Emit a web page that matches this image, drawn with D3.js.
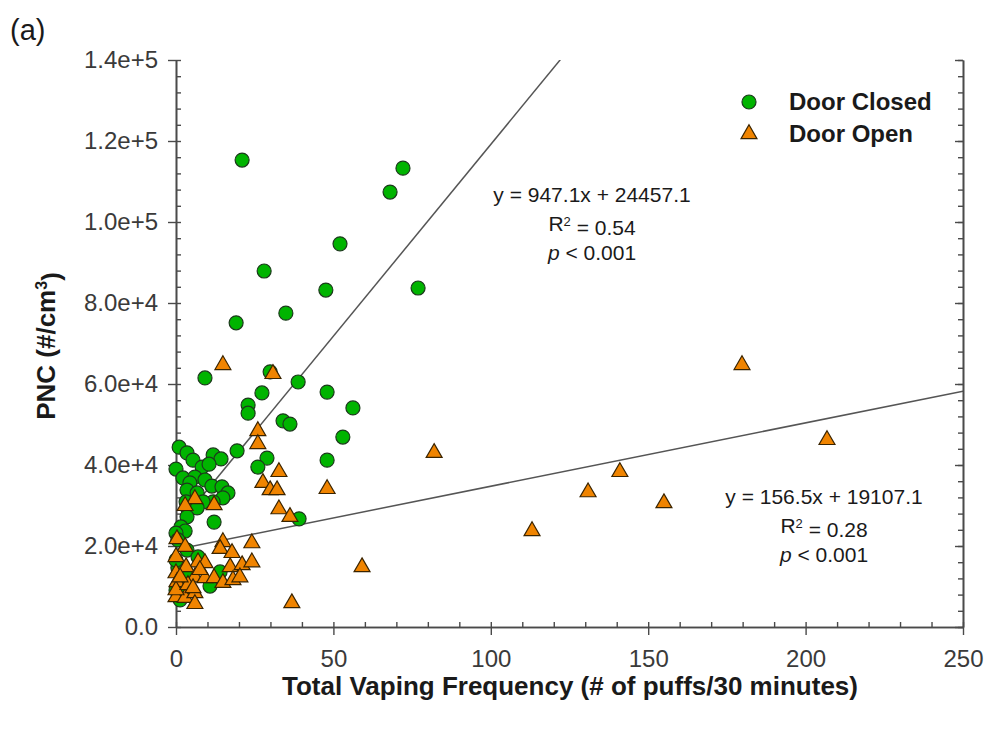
<!DOCTYPE html>
<html><head><meta charset="utf-8">
<script src="https://cdn.jsdelivr.net/npm/d3@7"></script>
<style>
body{margin:0;background:#fff;}
svg{display:block;font-family:"Liberation Sans",Arial,sans-serif;}
</style></head>
<body>
<script>
// ---- data ----
const closedX = [21.0,72.1,68.0,52.1,28.0,47.6,76.9,19.1,34.9,9.2,29.9,38.8,48.0,27.3,22.9,22.9,34.0,36.2,56.2,53.0,48.0,28.9,26.0,19.4,39.1,1.0,3.5,5.4,11.8,14.3,0.0,8.3,10.5,2.2,6.0,4.4,9.2,11.4,14.6,16.5,3.5,6.7,14.9,11.8,8.6,3.2,3.8,6.7,3.5,12.1,1.6,2.9,0.0,3.5,7.0,0.6,3.5,10.8,14.0,2.9,0.0,3.5,1.3,0.6,0.0];
const closedY = [115300,113300,107400,94600,87900,83200,83700,75100,77500,61500,63000,60500,58000,57800,54800,52800,50900,50100,54100,46900,41200,41700,39500,43500,26700,44400,43000,41200,42500,41500,39000,39500,40200,36800,37000,35600,36300,34800,34600,33100,33800,33100,31900,30900,30900,30900,29100,29400,27200,25900,24700,23700,23200,19000,17300,14600,12800,10100,13600,10400,9100,9600,6700,21500,16500];
const openX = [14.9,30.8,26.0,26.0,32.7,27.6,29.9,32.1,32.7,36.2,48.0,82.0,59.1,36.8,113.1,130.9,141.0,155.0,179.8,206.8,6.0,2.9,12.1,0.3,2.9,14.9,14.0,17.8,24.1,0.0,7.0,9.2,3.2,17.2,21.0,24.1,0.0,6.0,9.2,12.1,14.9,18.1,20.3,0.3,0.0,2.9,6.0,6.0,0.0,3.8,1.3,7.6,5.4];
const openY = [64700,62500,48400,45200,38300,35600,33800,33800,29100,27200,34100,43000,14800,5900,23700,33300,38300,30600,64700,46200,31600,29900,30100,21700,19800,21000,19300,18300,20700,17300,16000,15800,14800,14800,15300,16000,13300,12300,12100,12100,10900,11600,12300,11100,7400,7200,8400,5700,9100,10400,12300,14100,9600];
const fitClosed = {slope: 947.1, intercept: 24457.1, r2: "0.54"};
const fitOpen = {slope: 156.5, intercept: 19107.1, r2: "0.28"};
const xTicks = [0,50,100,150,200,250];
const yTicks = [0,20000,40000,60000,80000,100000,120000,140000];
const yTickLabels = ["0.0","2.0e+4","4.0e+4","6.0e+4","8.0e+4","1.0e+5","1.2e+5","1.4e+5"];
const seriesNames = ["Door Closed","Door Open"];

// ---- layout ----
const W = 986, H = 730;
const L = 176, R = 963, T = 60, B = 627;
const svg = d3.select("body").append("svg").attr("width", W).attr("height", H);
const x = d3.scaleLinear().domain([0,250]).range([L,R]);
const y = d3.scaleLinear().domain([0,140000]).range([B,T]);
const axisColor = "#4a4a4a";
const green = "#00b400", greenStroke = "#1c3a1c";
const orange = "#f08400", orangeStroke = "#3a2400";

svg.append("defs").append("clipPath").attr("id","plot")
  .append("rect").attr("x",L).attr("y",T).attr("width",R-L).attr("height",B-T);

// regression lines
const g = svg.append("g").attr("clip-path","url(#plot)");
[fitClosed, fitOpen].forEach(f => {
  g.append("line")
    .attr("x1", x(0)).attr("y1", y(f.intercept))
    .attr("x2", x(250)).attr("y2", y(f.intercept + f.slope*250))
    .attr("stroke","#555").attr("stroke-width",1.5);
});

// axes
function styleAxis(sel){
  sel.select(".domain").attr("stroke",axisColor).attr("stroke-width",1.6);
  sel.selectAll(".tick line").attr("stroke",axisColor).attr("stroke-width",1.4);
  sel.selectAll(".tick text").attr("fill","#3a3a3a").style("font-size","24px")
     .style("font-family",'"Liberation Sans",Arial,sans-serif');
}
svg.append("g").attr("transform",`translate(${L},0)`)
  .call(d3.axisLeft(y).tickValues(d3.range(0,140001,4000)).tickSize(-5).tickFormat("").tickSizeOuter(0))
  .call(styleAxis);
svg.append("g").attr("transform",`translate(${L},0)`)
  .call(d3.axisLeft(y).tickValues(yTicks).tickSize(8).tickSizeOuter(0)
    .tickFormat((d,i)=>yTickLabels[i]).tickPadding(10))
  .call(styleAxis);
svg.append("g").attr("transform",`translate(${R},0)`)
  .call(d3.axisRight(y).tickValues(d3.range(0,140001,4000)).tickSize(-5).tickFormat("").tickSizeOuter(0))
  .call(styleAxis);
svg.append("g").attr("transform",`translate(${R},0)`)
  .call(d3.axisRight(y).tickValues(yTicks).tickSize(-8).tickFormat("").tickSizeOuter(0))
  .call(styleAxis);
svg.append("g").attr("transform",`translate(0,${B})`)
  .call(d3.axisBottom(x).tickValues(d3.range(0,251,10)).tickSize(-5).tickFormat("").tickSizeOuter(0))
  .call(styleAxis);
svg.append("g").attr("transform",`translate(0,${B})`)
  .call(d3.axisBottom(x).tickValues(xTicks).tickSize(8).tickSizeOuter(0).tickFormat(d3.format("d")).tickPadding(15))
  .call(styleAxis);

// points
svg.append("g").selectAll("circle").data(closedX.map((v,i)=>[v,closedY[i]]))
  .join("circle").attr("cx",d=>x(d[0])).attr("cy",d=>y(d[1])).attr("r",7)
  .attr("fill",green).attr("stroke",greenStroke).attr("stroke-width",1.2);
const tri = d3.symbol().type(d3.symbolTriangle).size(110);
svg.append("g").selectAll("path").data(openX.map((v,i)=>[v,openY[i]]))
  .join("path").attr("d",tri).attr("transform",d=>`translate(${x(d[0])},${y(d[1])})`)
  .attr("fill",orange).attr("stroke",orangeStroke).attr("stroke-width",1.2);

// legend
svg.append("circle").attr("cx",749).attr("cy",102).attr("r",7)
  .attr("fill",green).attr("stroke",greenStroke).attr("stroke-width",1.2);
svg.append("path").attr("d",tri).attr("transform","translate(749,134)")
  .attr("fill",orange).attr("stroke",orangeStroke).attr("stroke-width",1.2);
seriesNames.forEach((n,i)=>{
  svg.append("text").attr("x",789).attr("y",102+i*32).attr("dy","0.35em")
    .style("font-size","24px").style("font-weight","bold").attr("fill","#1a1a1a").text(n);
});

// annotations
function annot(cx, cy, f){
  const s = f.slope.toFixed(1), b = f.intercept.toFixed(1);
  svg.append("text").attr("x",cx).attr("y",cy).attr("text-anchor","middle")
    .style("font-size","21px").attr("fill","#1a1a1a").attr("dy","0.35em")
    .text(`y = ${s}x + ${b}`);
  const t2 = svg.append("text").attr("x",cx).attr("y",cy+29).attr("text-anchor","middle")
    .style("font-size","21px").attr("fill","#1a1a1a").attr("dy","0.35em");
  t2.append("tspan").text("R");
  t2.append("tspan").attr("dy","-0.45em").style("font-size","13px").text("2");
  t2.append("tspan").attr("dy","0.45em").text(` = ${f.r2}`);
  const t3 = svg.append("text").attr("x",cx).attr("y",cy+58).attr("text-anchor","middle")
    .style("font-size","21px").attr("fill","#1a1a1a").attr("dy","0.35em");
  t3.append("tspan").style("font-style","italic").text("p");
  t3.append("tspan").text(" < 0.001");
}
annot(592,195,fitClosed);
annot(824,497,fitOpen);

// axis titles
svg.append("text").attr("x",570).attr("y",686).attr("text-anchor","middle").attr("dy","0.35em")
  .style("font-size","26px").style("font-weight","bold").attr("fill","#1a1a1a")
  .text("Total Vaping Frequency (# of puffs/30 minutes)");
const yt = svg.append("text").attr("transform","translate(46,346) rotate(-90)")
  .attr("text-anchor","middle").attr("dy","0.35em")
  .style("font-size","26px").style("font-weight","bold").attr("fill","#1a1a1a");
yt.append("tspan").text("PNC (#/cm");
yt.append("tspan").attr("dy","-0.5em").style("font-size","16px").text("3");
yt.append("tspan").attr("dy","0.5em").text(")");

svg.append("text").attr("x",10).attr("y",30).attr("dy","0.35em")
  .style("font-size","29px").attr("fill","#1a1a1a").text("(a)");
</script>
</body></html>
